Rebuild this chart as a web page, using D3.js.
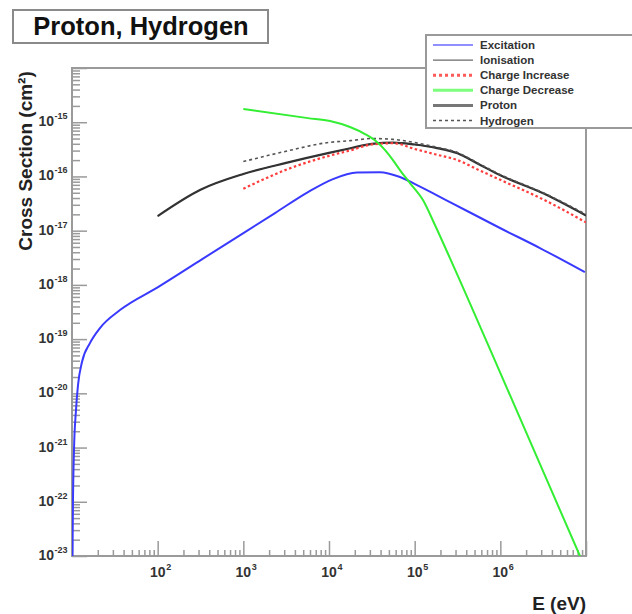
<!DOCTYPE html>
<html><head><meta charset="utf-8">
<script src="https://cdn.jsdelivr.net/npm/d3@7"></script>
<style>body{margin:0;background:#fff}svg{display:block;font-family:"Liberation Sans",Arial,sans-serif}</style>
</head><body><svg id="c" width="632" height="614"></svg>
<script>
// ---- data (E in eV, cross sections in cm^2) ----
const excitationE = [10.13, 10.27, 10.55, 11.13, 11.75, 13.08, 16.2, 21.2, 36.3, 101, 338, 1045, 2342, 5686, 11135, 21220, 39360, 67400, 106500, 258000, 990000, 2900000, 9700000];
const excitationS = [1e-23, 1.07e-22, 8.95e-22, 4.9e-21, 1.42e-20, 3.77e-20, 8.44e-20, 1.6e-19, 3.43e-19, 9.1e-19, 3.05e-18, 9.4e-18, 2.11e-17, 5.15e-17, 8.95e-17, 1.18e-16, 1.2e-16, 9.75e-17, 6.93e-17, 3.37e-17, 1.12e-17, 4.78e-18, 1.72e-18];

const ionE = [100, 316, 1000, 3162, 10000, 17780, 31620, 56230, 100000, 177800, 316200, 562300, 1000000, 3162000, 10000000];
const ionS = [1.86e-17, 5.69e-17, 1.11e-16, 1.78e-16, 2.72e-16, 3.31e-16, 4.0e-16, 4.22e-16, 3.88e-16, 3.37e-16, 2.67e-16, 1.68e-16, 1.05e-16, 4.88e-17, 1.9e-17];

const protonE = [100, 316, 1000, 3162, 10000, 17780, 31620, 56230, 100000, 177800, 316200, 562300, 1000000, 3162000, 10000000];
const protonS = [1.86e-17, 5.69e-17, 1.11e-16, 1.78e-16, 2.72e-16, 3.31e-16, 4.0e-16, 4.22e-16, 3.88e-16, 3.37e-16, 2.67e-16, 1.68e-16, 1.05e-16, 4.88e-17, 1.9e-17];

const hydrogenE = [1000, 3162, 10000, 17780, 31620, 56230, 100000, 177800, 316200, 562300, 1000000, 3162000, 10000000];
const hydrogenS = [1.88e-16, 2.92e-16, 4.24e-16, 4.57e-16, 5.0e-16, 4.82e-16, 4.22e-16, 3.48e-16, 2.76e-16, 1.72e-16, 1.08e-16, 5.0e-17, 2.0e-17];

const chargeIncE = [1000, 3162, 10000, 17780, 31620, 56230, 100000, 177800, 316200, 562300, 1000000, 3162000, 10000000];
const chargeIncS = [5.93e-17, 1.33e-16, 2.4e-16, 3.03e-16, 3.89e-16, 4.1e-16, 3.21e-16, 2.54e-16, 2.0e-16, 1.31e-16, 8.65e-17, 3.77e-17, 1.42e-17];

const chargeDecE = [1000, 5686, 10270, 17580, 26300, 36300, 51500, 67400, 88100, 125000, 172500, 258000, 990000, 3800000, 8500000];
const chargeDecS = [1.75e-15, 1.19e-15, 1.05e-15, 8.15e-16, 6.05e-16, 4.31e-16, 2.38e-16, 1.31e-16, 7.55e-17, 3.67e-17, 1.27e-17, 3.12e-18, 2.46e-20, 1.86e-22, 1e-23];

const xMajor = [10, 100, 1000, 10000, 100000, 1000000, 10000000];
const xLabelExp = [2, 3, 4, 5, 6];
const yLabelExp = [-15, -16, -17, -18, -19, -20, -21, -22, -23];
const legendLabels = ["Excitation", "Ionisation", "Charge Increase", "Charge Decrease", "Proton", "Hydrogen"];
const titleText = "Proton, Hydrogen";

// ---- drawing ----
const svg = d3.select("#c");
const L = 72, R = 586, T = 68, B = 556;
const x = d3.scaleLog().domain([10, 1e7]).range([L, R]);
const y = d3.scaleLog().domain([1e-23, 1e-14]).range([B, T]);
const axisCol = "#9a9a9a";

const xMinor = [], yMinor = [];
for (let e = 1; e < 7; e++) for (let m = 2; m <= 9; m++) xMinor.push(m * Math.pow(10, e));
for (let e = -23; e < -14; e++) for (let m = 2; m <= 9; m++) yMinor.push(m * Math.pow(10, e));
const yMajor = d3.range(-23, -13).map(e => Math.pow(10, e));

function styleAxis(g) {
  g.select(".domain").remove();
  g.selectAll("line").attr("stroke", axisCol).attr("stroke-width", 1.5);
}
svg.append("g").attr("transform", `translate(0,${B})`)
  .call(d3.axisTop(x).tickValues(xMinor).tickSize(6).tickFormat("")).call(styleAxis);
svg.append("g").attr("transform", `translate(0,${B})`)
  .call(d3.axisTop(x).tickValues(xMajor).tickSize(15).tickFormat("")).call(styleAxis);
svg.append("g").attr("transform", `translate(${L},0)`)
  .call(d3.axisRight(y).tickValues(yMinor).tickSize(8).tickFormat("")).call(styleAxis);
svg.append("g").attr("transform", `translate(${L},0)`)
  .call(d3.axisRight(y).tickValues(yMajor).tickSize(15).tickFormat("")).call(styleAxis);

svg.append("rect").attr("x", L).attr("y", T).attr("width", R - L).attr("height", B - T)
  .attr("fill", "none").attr("stroke", axisCol).attr("stroke-width", 2);

svg.append("clipPath").attr("id", "clip").append("rect")
  .attr("x", L).attr("y", T).attr("width", R - L).attr("height", B - T);

const line = d3.line().x(d => x(d[0])).y(d => y(d[1])).curve(d3.curveMonotoneX);
const plot = svg.append("g").attr("clip-path", "url(#clip)");
function drawSeries(E, S, col, w, dash) {
  plot.append("path").datum(E.map((e, i) => [e, S[i]]))
    .attr("d", line).attr("fill", "none").attr("stroke", col).attr("stroke-width", w)
    .attr("stroke-dasharray", dash || null).attr("stroke-linejoin", "round");
}
drawSeries(excitationE, excitationS, "#3a3aff", 2);
drawSeries(ionE, ionS, "#222", 1);
drawSeries(protonE, protonS, "#333", 2.2);
drawSeries(hydrogenE, hydrogenS, "#555", 1.6, "3,3");
drawSeries(chargeIncE, chargeIncS, "#ff3b3b", 2.2, "2.5,2.5");
drawSeries(chargeDecE, chargeDecS, "#33ee33", 2);

const xl = svg.append("g").attr("font-weight", "bold").attr("fill", "#333");
xLabelExp.forEach(e => {
  const px = x(Math.pow(10, e));
  xl.append("text").attr("x", px).attr("y", 577).attr("text-anchor", "middle").attr("font-size", 14).text("10");
  xl.append("text").attr("x", px + 8.5).attr("y", 570).attr("font-size", 9).text(e);
});
const yl = svg.append("g").attr("font-weight", "bold").attr("fill", "#333");
yLabelExp.forEach(e => {
  const py = y(Math.pow(10, e));
  yl.append("text").attr("x", 54).attr("y", py + 4).attr("text-anchor", "end").attr("font-size", 14).text("10");
  yl.append("text").attr("x", 54.5).attr("y", py - 3).attr("font-size", 9).text(e);
});

svg.append("text").attr("transform", "translate(32,161) rotate(-90)")
  .attr("text-anchor", "middle").attr("font-weight", "bold").attr("font-size", 19).attr("fill", "#222")
  .text("Cross Section (cm²)");
svg.append("text").attr("x", 586).attr("y", 610).attr("text-anchor", "end")
  .attr("font-weight", "bold").attr("font-size", 19).attr("fill", "#222").text("E (eV)");

svg.append("rect").attr("x", 13).attr("y", 10).attr("width", 255).attr("height", 33)
  .attr("fill", "#fff").attr("stroke", "#8a8a8a").attr("stroke-width", 2);
svg.append("text").attr("x", 141).attr("y", 35).attr("text-anchor", "middle")
  .attr("font-weight", "bold").attr("font-size", 25.5).attr("fill", "#111").text(titleText);

svg.append("rect").attr("x", 426).attr("y", 35).attr("width", 220).attr("height", 93)
  .attr("fill", "#fff").attr("stroke", "#9a9a9a").attr("stroke-width", 2);
const legStyles = [
  {c: "#6a6aff", w: 1.5, d: null},
  {c: "#444", w: 1, d: null},
  {c: "#ff5a5a", w: 3, d: "3,3"},
  {c: "#7dff7d", w: 3, d: null},
  {c: "#777", w: 3, d: null},
  {c: "#555", w: 1.5, d: "3,3"}
];
legendLabels.forEach((lab, i) => {
  const ry = 45 + i * 15.1;
  const s = legStyles[i];
  svg.append("line").attr("x1", 433).attr("x2", 473).attr("y1", ry).attr("y2", ry)
    .attr("stroke", s.c).attr("stroke-width", s.w).attr("stroke-dasharray", s.d);
  svg.append("text").attr("x", 480).attr("y", ry + 4).attr("font-size", 11.5).attr("font-weight", "bold")
    .attr("fill", "#333").text(lab);
});
</script></body></html>
